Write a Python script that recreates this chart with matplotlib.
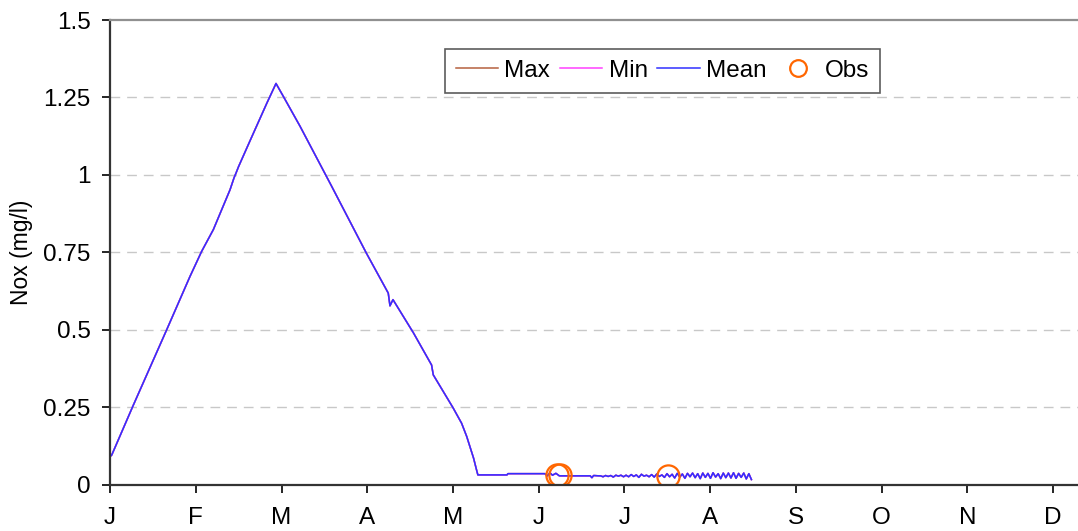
import numpy as np
import matplotlib
matplotlib.use("Agg")
import matplotlib.pyplot as plt

plt.rcParams['font.family'] = ['Liberation Sans', 'DejaVu Sans']

# ---- data (x in months since 1 Jan) ----
month_labels = ['J', 'F', 'M', 'A', 'M', 'J', 'J', 'A', 'S', 'O', 'N', 'D']

main_x = [0.00, 0.02, 0.27, 0.66, 0.933, 1.069, 1.205, 1.40, 1.446, 1.47, 1.50,
          1.633, 1.83, 1.936, 2.02, 2.216, 2.585, 2.99, 3.245, 3.265, 3.30, 3.54,
          3.75, 3.77, 4.00, 4.10, 4.16, 4.24, 4.27, 4.29, 4.63, 4.64, 5.07, 5.10,
          5.13, 5.16, 5.20, 5.24, 5.28, 5.60, 5.62, 5.64, 5.70]
main_y = [0.090, 0.095, 0.255, 0.499, 0.672, 0.753, 0.823, 0.952, 0.990, 1.006, 1.027,
          1.110, 1.232, 1.295, 1.254, 1.157, 0.963, 0.747, 0.618, 0.577, 0.597, 0.489,
          0.386, 0.354, 0.248, 0.198, 0.155, 0.085, 0.052, 0.031, 0.031, 0.035, 0.035,
          0.028, 0.038, 0.030, 0.036, 0.028, 0.028, 0.028, 0.022, 0.029, 0.028]

tail_y = [0.028, 0.025, 0.029, 0.026, 0.029, 0.024, 0.030, 0.027, 0.030, 0.025,
          0.030, 0.025, 0.032, 0.026, 0.031, 0.023, 0.033, 0.027, 0.030, 0.025,
          0.032, 0.024, 0.034, 0.026, 0.031, 0.023, 0.035, 0.025, 0.033, 0.021,
          0.036, 0.024, 0.034, 0.020, 0.036, 0.025, 0.037, 0.022, 0.035, 0.019,
          0.037, 0.023, 0.036, 0.020, 0.038, 0.024, 0.035, 0.019, 0.037, 0.022,
          0.037, 0.021, 0.038, 0.020, 0.036, 0.023, 0.037, 0.018, 0.035, 0.016]
tail_x = list(np.linspace(5.72, 7.48, len(tail_y)))

mean_x = main_x + tail_x
mean_y = main_y + tail_y
max_y = list(mean_y)
min_y = list(mean_y)

obs_x = [5.21, 5.25, 6.51]
obs_y = [0.031, 0.031, 0.028]

# ---- figure ----
fig = plt.figure(figsize=(10.78, 5.31), dpi=100)
ax = fig.add_axes([110/1078, 1 - 484.5/531, 1 - 110/1078, (484.5 - 20)/531])

ax.plot(mean_x, max_y, color='#B5603F', lw=1.1, label='Max')
ax.plot(mean_x, min_y, color='#FF40FF', lw=1.1, label='Min')
ax.plot(mean_x, mean_y, color='#3030FF', lw=1.1, label='Mean')
ax.plot(obs_x, obs_y, linestyle='none', marker='o', markersize=16,
        markerfacecolor='none', markeredgecolor='#FF6600', markeredgewidth=1.6,
        label='Obs')

ax.set_xlim(0, (1078 - 110) / 85.75)
ax.set_ylim(0, 1.5)
ax.set_xticks(range(12))
ax.set_xticklabels(month_labels)
yt = [0, 0.25, 0.5, 0.75, 1.0, 1.25, 1.5]
ax.set_yticks(yt)
ax.set_yticklabels(['0', '0.25', '0.5', '0.75', '1', '1.25', '1.5'])

ax.tick_params(axis='x', direction='out', length=6, width=1.2, pad=10,
               labelsize=17.5, colors='black')
ax.tick_params(axis='y', direction='out', length=6, width=1.2, pad=8,
               labelsize=17.5, colors='black')
ax.set_ylabel('Nox (mg/l)', fontsize=16.5, labelpad=7)

for y in yt[1:-1]:
    ax.axhline(y, color='#C8C8C8', lw=1.0, dashes=(7, 5), zorder=0)

ax.spines['right'].set_visible(False)
ax.spines['top'].set_color('#909090')
ax.spines['top'].set_linewidth(1.6)
ax.spines['left'].set_color('#333333')
ax.spines['left'].set_linewidth(1.6)
ax.spines['bottom'].set_color('#333333')
ax.spines['bottom'].set_linewidth(1.6)

leg = ax.legend(loc='upper left', bbox_to_anchor=(0.346, (484.5 - 49) / 464.5),
                ncol=4, fontsize=17.5, frameon=True, fancybox=False,
                edgecolor='#333333', handlelength=1.75, handletextpad=0.25,
                columnspacing=0.4, borderpad=0.45, borderaxespad=0,
                markerscale=0.75)
leg.get_frame().set_linewidth(1.2)

fig.savefig('out.png', dpi=100)
